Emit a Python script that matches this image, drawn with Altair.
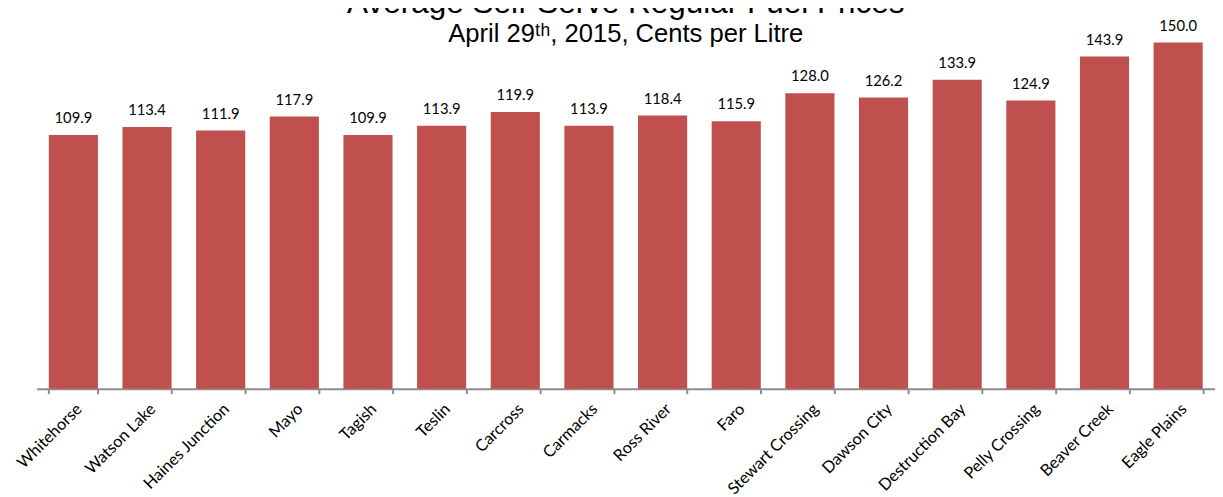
import altair as alt
import pandas as pd

towns = ["Whitehorse", "Watson Lake", "Haines Junction", "Mayo", "Tagish", "Teslin",
         "Carcross", "Carmacks", "Ross River", "Faro", "Stewart Crossing", "Dawson City",
         "Destruction Bay", "Pelly Crossing", "Beaver Creek", "Eagle Plains"]
prices = [109.9, 113.4, 111.9, 117.9, 109.9, 113.9, 119.9, 113.9, 118.4, 115.9,
          128.0, 126.2, 133.9, 124.9, 143.9, 150.0]

title_text = "Average Self-Serve Regular Fuel Prices"
subtitle_text = "April 29\u1d57\u02b0, 2015, Cents per Litre"

df = pd.DataFrame({"town": towns, "price": prices})

W, H = 1198, 352
TOP = 31

x = alt.X("town:N", sort=None, title=None,
          scale=alt.Scale(paddingInner=0.333, paddingOuter=0.1667),
          axis=alt.Axis(labelAngle=-45, labelFont="Lato", labelFontSize=16.5,
                        labelColor="#000000", tickBand="extent", tickSize=5,
                        tickColor="#8c8c8c", tickWidth=2, domainColor="#8c8c8c",
                        domainWidth=2, labelPadding=7, grid=False))
y = alt.Y("price:Q", title=None, scale=alt.Scale(domain=[0, 150], nice=False),
          axis=None)

bars = alt.Chart(df).mark_bar(color="#C0504D").encode(x=x, y=y)
labels = alt.Chart(df).mark_text(font="Lato", fontSize=15, color="#000000",
                                 baseline="alphabetic", dy=-12).encode(
    x=x, y=y, text=alt.Text("price:Q", format=".1f"))

title = alt.Chart(pd.DataFrame({"t": [title_text]})).mark_text(
    font="Liberation Sans", fontSize=32, color="#000000", baseline="alphabetic"
).encode(x=alt.value(W / 2), y=alt.value(9 - 8 - TOP), text="t:N")
subtitle = alt.Chart(pd.DataFrame({"t": [subtitle_text]})).mark_text(
    font="Liberation Sans", fontSize=26, color="#000000", baseline="alphabetic"
).encode(x=alt.value(W / 2), y=alt.value(38 - 8 - TOP), text="t:N")

chart = alt.layer(bars, labels, title, subtitle).properties(
    width=W, height=H,
    autosize=alt.AutoSizeParams(type="none"),
    padding={"left": 29, "top": TOP, "right": 0, "bottom": 110},
).configure_view(stroke=None)

chart.save("out.html", embed_options={"renderer": "svg", "actions": False})
